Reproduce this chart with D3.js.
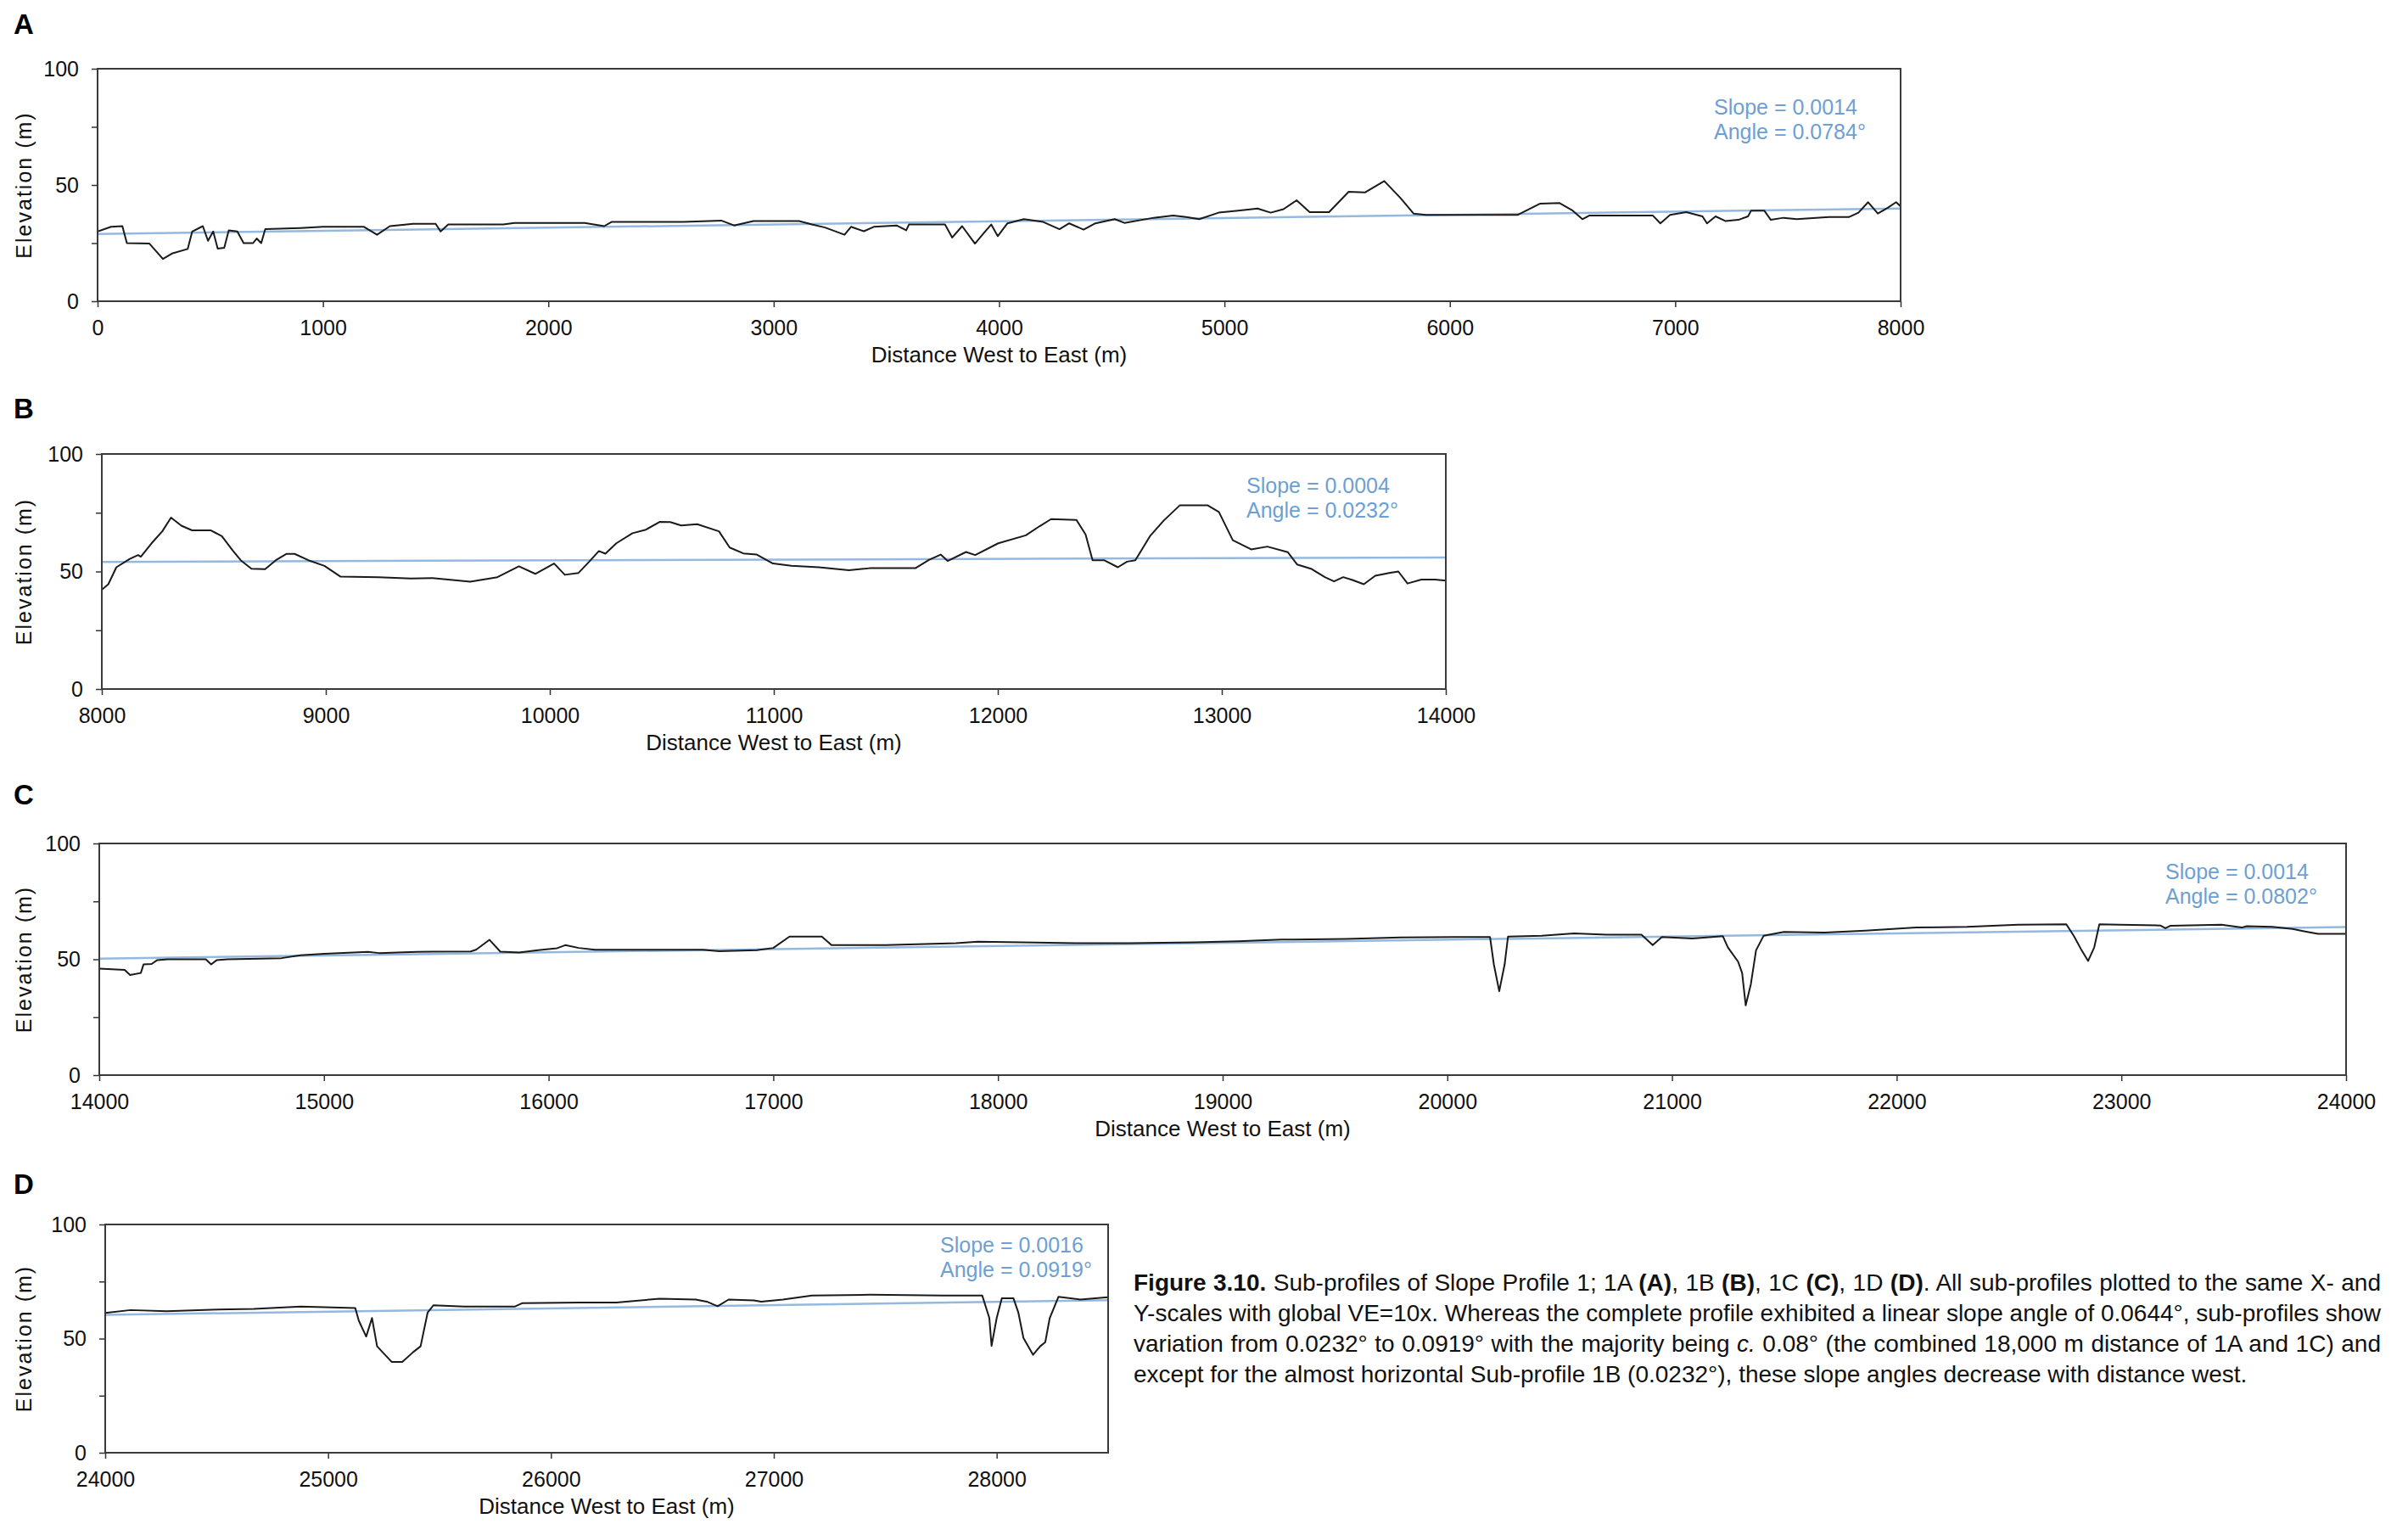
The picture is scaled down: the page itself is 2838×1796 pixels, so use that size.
<!DOCTYPE html>
<html>
<head>
<meta charset="utf-8">
<script src="https://cdn.jsdelivr.net/npm/d3@7"></script>
<style>
  html, body { margin: 0; padding: 0; background: #fff; }
  svg { display: block; font-family: "Liberation Sans", Arial, sans-serif; }
</style>
</head>
<body>
<div id="chart"></div>
<script>
// ---- data (distance m, elevation m) ----
const profileA = [
  [0, 30], [60, 32], [110, 32.3], [130, 25], [230, 24.8], [290, 18.2], [330, 20.5], [400, 22.5], [420, 30],
  [467, 32.3], [490, 26], [513, 30], [533, 22.6], [562, 23], [582, 30.5], [620, 30], [648, 25], [690, 25],
  [706, 27], [726, 25], [744, 31], [900, 31.5], [1000, 32], [1182, 32], [1240, 28.6], [1297, 32.3],
  [1400, 33.3], [1500, 33.3], [1522, 30], [1556, 33], [1800, 33], [1850, 33.7], [2161, 33.7], [2248, 32.3],
  [2280, 34.1], [2600, 34.1], [2767, 34.7], [2824, 32.6], [2910, 34.5], [3112, 34.5], [3170, 33],
  [3228, 31.7], [3314, 28.6], [3343, 32], [3400, 30.1], [3444, 32], [3545, 32.6], [3588, 30.5],
  [3600, 33], [3760, 33], [3792, 27.4], [3836, 32.3], [3893, 24.8], [3937, 29.9], [3965, 33],
  [3994, 28], [4037, 33.5], [4110, 35.3], [4196, 34.1], [4268, 31], [4311, 33.5], [4375, 30.8],
  [4427, 33.5], [4513, 35.3], [4556, 33.7], [4686, 35.9], [4772, 36.9], [4830, 36.2], [4888, 35.3],
  [4974, 38.1], [5061, 39], [5147, 39.9], [5205, 38.1], [5262, 39.6], [5320, 43.4], [5378, 38.3],
  [5464, 38.3], [5551, 47.1], [5623, 46.8], [5709, 51.7], [5781, 44.4], [5839, 37.7], [5896, 37.1],
  [6300, 37.1], [6401, 42], [6487, 42.2], [6545, 39], [6588, 35.3], [6620, 36.9], [6900, 36.9],
  [6934, 33.5], [6977, 37.1], [7049, 38.3], [7121, 36.5], [7141, 33.5], [7179, 36.5], [7222, 34.5],
  [7280, 35], [7323, 36.5], [7337, 39], [7395, 39], [7424, 35], [7481, 35.9], [7539, 35.3],
  [7683, 36.2], [7770, 36.2], [7813, 38.1], [7856, 42.6], [7899, 37.7], [7943, 40.2], [7980, 42.6], [8000, 40.8]
];
const profileB = [
  [8000, 42.2], [8029, 44.6], [8065, 51.8], [8125, 55.4], [8162, 57], [8174, 56.3], [8222, 62], [8270, 67.1],
  [8309, 72.9], [8355, 69.5], [8403, 67.5], [8487, 67.5], [8536, 65], [8584, 59], [8620, 54.8],
  [8668, 51.2], [8729, 51], [8777, 54.8], [8825, 57.5], [8861, 57.5], [8922, 54.8], [8994, 52.4],
  [9066, 47.8], [9235, 47.6], [9380, 47], [9476, 47.2], [9645, 45.7], [9766, 47.6], [9862, 52.2],
  [9935, 49], [10019, 53.4], [10067, 48.6], [10128, 49.4], [10176, 54.2], [10219, 58.7], [10248, 57.6],
  [10297, 62], [10369, 66.3], [10429, 67.8], [10490, 71.1], [10538, 71], [10586, 69.6], [10658, 70.1],
  [10755, 67.1], [10803, 60.2], [10864, 57.7], [10924, 57.2], [10996, 53.4], [11078, 52.4],
  [11201, 51.8], [11335, 50.5], [11427, 51.4], [11632, 51.4], [11694, 55], [11745, 57.2], [11776, 54.5],
  [11858, 58.3], [11899, 57], [12002, 62], [12125, 65.4], [12187, 69.3], [12238, 72.3], [12351, 71.9],
  [12392, 65.7], [12423, 54.8], [12474, 54.8], [12536, 51.8], [12577, 54.2], [12614, 54.8],
  [12679, 65], [12741, 71.7], [12813, 78.2], [12936, 78.2], [12987, 75.3], [13049, 63.3], [13131, 59.4],
  [13203, 60.6], [13295, 58.2], [13336, 53], [13398, 51.2], [13460, 47.6], [13501, 45.8], [13542, 47.6],
  [13583, 46.4], [13634, 44.6], [13685, 48.2], [13747, 49.4], [13788, 50], [13829, 44.9], [13891, 46.6],
  [13952, 46.6], [14000, 46.1]
];
const profileC = [
  [14000, 46], [14113, 45.4], [14137, 43.2], [14185, 44.1], [14197, 47.8], [14233, 48], [14257, 49.6],
  [14305, 50], [14474, 50], [14498, 47.8], [14522, 49.6], [14570, 50], [14811, 50.5], [14895, 51.7],
  [15003, 52.4], [15196, 53.2], [15244, 52.7], [15412, 53.2], [15653, 53.4], [15677, 54.1], [15737, 58.4],
  [15785, 53.3], [15869, 52.9], [15953, 53.9], [16038, 54.8], [16074, 56.1], [16134, 54.9], [16206, 54.1],
  [16687, 54.1], [16759, 53.5], [16927, 53.9], [17000, 54.9], [17072, 59.8], [17216, 59.8], [17259, 56.1],
  [17501, 56.1], [17814, 57], [17911, 57.6], [18104, 57.3], [18345, 57], [18586, 57], [18876, 57.3],
  [19069, 57.8], [19262, 58.5], [19551, 58.8], [19792, 59.4], [20034, 59.6], [20190, 59.6], [20207, 47.8],
  [20231, 36.2], [20255, 47.8], [20270, 59.8], [20420, 60.2], [20564, 61.2], [20709, 60.6], [20864, 60.6],
  [20914, 56.1], [20955, 59.6], [21091, 59], [21226, 60], [21249, 55.1], [21294, 49], [21312, 44.1],
  [21328, 30.1], [21351, 39.3], [21374, 53.9], [21408, 60.2], [21498, 61.8], [21679, 61.5], [21860, 62.4],
  [22087, 63.7], [22313, 64], [22540, 64.9], [22755, 65.1], [22789, 60], [22823, 53.9], [22852, 49.3],
  [22879, 55.1], [22902, 65.1], [22992, 64.9], [23173, 64.6], [23196, 63.4], [23219, 64.5], [23445, 64.9],
  [23536, 63.7], [23558, 64.3], [23672, 64], [23762, 63.1], [23808, 62.2], [23875, 61], [24000, 61]
];
const profileD = [
  [24000, 61.2], [24114, 62.5], [24276, 62], [24504, 62.7], [24667, 63], [24878, 64], [25122, 63.4],
  [25138, 57.8], [25171, 50.9], [25197, 59], [25220, 46.6], [25285, 39.8], [25333, 39.8], [25382, 44.1],
  [25415, 46.6], [25447, 61.5], [25473, 64.6], [25610, 64], [25837, 64], [25870, 65.5], [26130, 65.8],
  [26293, 65.8], [26488, 67.5], [26650, 67.1], [26699, 66.2], [26748, 64.2], [26797, 67.1], [26911, 66.7],
  [26943, 66.2], [27041, 67.1], [27171, 68.9], [27431, 69.2], [27756, 68.9], [27935, 68.9], [27967, 59],
  [27977, 46.8], [28000, 59], [28023, 67.7], [28075, 67.7], [28097, 61.5], [28120, 50.3], [28163, 42.9],
  [28195, 46.6], [28218, 48.4], [28238, 59], [28277, 68.3], [28375, 67.1], [28498, 68.1]
];

// linear fits: elevation at start and end of each sub-profile
const trendA = [28.9, 39.9];
const trendB = [54.1, 56.0];
const trendC = [50.3, 63.9];
const trendD = [60.4, 66.8];

const xDomains = [[0, 8000], [8000, 14000], [14000, 24000], [24000, 28500]];
const slopeLabels = ["Slope = 0.0014", "Slope = 0.0004", "Slope = 0.0014", "Slope = 0.0016"];
const angleLabels = ["Angle = 0.0784\u00b0", "Angle = 0.0232\u00b0", "Angle = 0.0802\u00b0", "Angle = 0.0919\u00b0"];
const panelLetters = ["A", "B", "C", "D"];
const yTicks = [0, 25, 50, 75, 100];
const yTickLabels = [0, 50, 100];

// ---- layout ----
const W = 2838, H = 1796;
const layout = [
  { left: 115, right: 2240, top: 81, bottom: 355, letterY: 40, noteX: 2020, noteY: 135 },
  { left: 120, right: 1704, top: 535, bottom: 812, letterY: 493, noteX: 1469, noteY: 581 },
  { left: 117, right: 2765, top: 994, bottom: 1267, letterY: 948, noteX: 2552, noteY: 1036 },
  { left: 124, right: 1306, top: 1443, bottom: 1712, letterY: 1407, noteX: 1108, noteY: 1476 }
];
const profiles = [profileA, profileB, profileC, profileD];
const trends = [trendA, trendB, trendC, trendD];

const svg = d3.select('#chart').append('svg')
  .attr('width', W).attr('height', H)
  .attr('viewBox', `0 0 ${W} ${H}`);
svg.append('rect').attr('width', W).attr('height', H).attr('fill', '#fff');

layout.forEach((L, i) => {
  const x = d3.scaleLinear().domain(xDomains[i]).range([L.left, L.right]);
  const y = d3.scaleLinear().domain([0, 100]).range([L.bottom, L.top]);
  const g = svg.append('g').classed('panel', true);

  // panel letter
  g.append('text')
    .attr('x', 16).attr('y', L.letterY)
    .attr('font-size', 33).attr('font-weight', 'bold')
    .attr('fill', '#000')
    .text(panelLetters[i]);

  // x axis
  const xAxis = d3.axisBottom(x)
    .tickValues(d3.range(xDomains[i][0], xDomains[i][1] + 1, 1000))
    .tickFormat(d3.format('d'))
    .tickSize(7).tickSizeOuter(0).tickPadding(15);
  const gx = g.append('g')
    .attr('transform', `translate(0,${L.bottom})`)
    .call(xAxis);
  gx.selectAll('text').attr('font-size', 25).attr('fill', '#111').attr('font-family', null);
  gx.selectAll('line').attr('stroke', '#333').attr('stroke-width', 1.5);
  gx.select('.domain').remove();

  // y axis
  const yAxis = d3.axisLeft(y)
    .tickValues(yTicks)
    .tickFormat(d => yTickLabels.includes(d) ? d : '')
    .tickSize(7).tickSizeOuter(0).tickPadding(15);
  const gy = g.append('g')
    .attr('transform', `translate(${L.left},0)`)
    .call(yAxis);
  gy.selectAll('text').attr('font-size', 25).attr('fill', '#111').attr('font-family', null);
  gy.selectAll('line').attr('stroke', '#333').attr('stroke-width', 1.5);
  gy.select('.domain').remove();

  // clip for the profile
  const clipId = 'clip' + i;
  svg.append('clipPath').attr('id', clipId)
    .append('rect')
    .attr('x', L.left).attr('y', L.top)
    .attr('width', L.right - L.left).attr('height', L.bottom - L.top);

  // trend line
  g.append('line')
    .attr('x1', x(xDomains[i][0])).attr('y1', y(trends[i][0]))
    .attr('x2', x(xDomains[i][1])).attr('y2', y(trends[i][1]))
    .attr('stroke', '#94b9df').attr('stroke-width', 2.5);

  // profile
  const line = d3.line().x(d => x(d[0])).y(d => y(d[1]));
  g.append('path')
    .datum(profiles[i])
    .attr('clip-path', `url(#${clipId})`)
    .attr('d', line)
    .attr('fill', 'none')
    .attr('stroke', '#1a1a1a')
    .attr('stroke-width', 2)
    .attr('stroke-linejoin', 'round');

  // frame
  g.append('rect')
    .attr('x', L.left).attr('y', L.top)
    .attr('width', L.right - L.left).attr('height', L.bottom - L.top)
    .attr('fill', 'none').attr('stroke', '#3a3a3a').attr('stroke-width', 2);

  // slope / angle annotation
  const note = g.append('text')
    .attr('font-size', 25).attr('fill', '#6d9fd4');
  note.append('tspan').attr('x', L.noteX).attr('y', L.noteY).text(slopeLabels[i]);
  note.append('tspan').attr('x', L.noteX).attr('y', L.noteY + 29).text(angleLabels[i]);

  // axis titles
  g.append('text')
    .attr('x', (L.left + L.right) / 2).attr('y', L.bottom + 72)
    .attr('text-anchor', 'middle').attr('font-size', 26).attr('fill', '#111')
    .text('Distance West to East (m)');
  g.append('text')
    .attr('transform', `translate(37,${(L.top + L.bottom) / 2}) rotate(-90)`)
    .attr('text-anchor', 'middle').attr('font-size', 25).attr('letter-spacing', 2)
    .attr('fill', '#111')
    .text('Elevation (m)');
});

// ---- caption ----
const captionLines = [
  [['Figure 3.10.', 'b'], [' Sub-profiles of Slope Profile 1; 1A ', ''], ['(A)', 'b'], [', 1B ', ''], ['(B)', 'b'],
   [', 1C ', ''], ['(C)', 'b'], [', 1D ', ''], ['(D)', 'b'], ['. All sub-profiles plotted to the same X- and', '']],
  [['Y-scales with global VE=10x. Whereas the complete profile exhibited a linear slope angle of 0.0644\u00b0, sub-profiles show', '']],
  [['variation from 0.0232\u00b0 to 0.0919\u00b0 with the majority being ', ''], ['c.', 'i'],
   [' 0.08\u00b0 (the combined 18,000 m distance of 1A and 1C) and', '']],
  [['except for the almost horizontal Sub-profile 1B (0.0232\u00b0), these slope angles decrease with distance west.', '']]
];
const capX = 1336, capRight = 2806, capY = 1521, capLead = 36;
captionLines.forEach((parts, li) => {
  const t = svg.append('text')
    .attr('x', capX).attr('y', capY + li * capLead)
    .attr('font-size', 28).attr('fill', '#111');
  parts.forEach(([s, st]) => {
    const ts = t.append('tspan').text(s);
    if (st === 'b') ts.attr('font-weight', 'bold');
    if (st === 'i') ts.attr('font-style', 'italic');
  });
  if (li < captionLines.length - 1) {
    const natural = t.node().getComputedTextLength();
    const spaces = parts.map(p => p[0]).join('').split(' ').length - 1;
    const extra = (capRight - capX - natural) / spaces;
    if (extra >= 0) {
      t.attr('word-spacing', extra);
    } else {
      t.attr('textLength', capRight - capX).attr('lengthAdjust', 'spacingAndGlyphs');
    }
  }
});
</script>
</body>
</html>
